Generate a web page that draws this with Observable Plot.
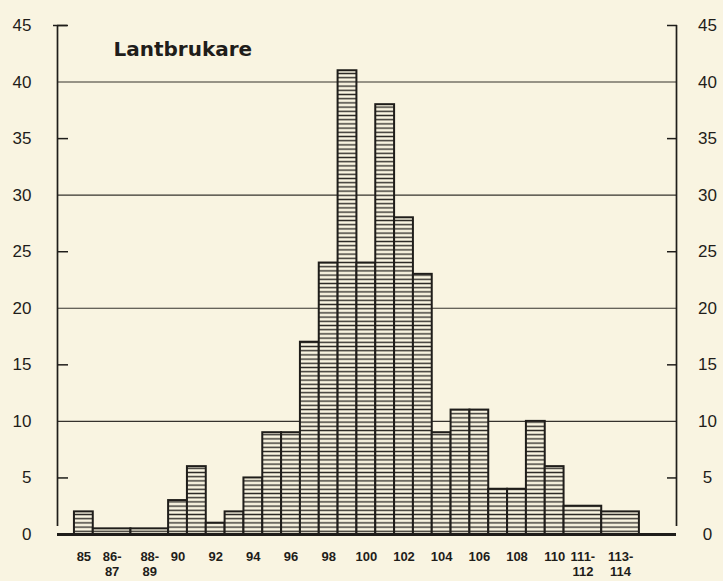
<!DOCTYPE html>
<html>
<head>
<meta charset="utf-8">
<script src="https://cdn.jsdelivr.net/npm/d3@7"></script>
<script src="https://cdn.jsdelivr.net/npm/@observablehq/plot@0.6"></script>
<style>
  html, body { margin: 0; padding: 0; background: #f9f4e1; }
  #chart { width: 723px; height: 581px; overflow: hidden; }
</style>
</head>
<body>
<div id="chart"></div>
<script>
// ---- data ----
const title = "Lantbrukare";
const binLow  = [85, 86, 88, 90, 91, 92, 93, 94, 95, 96, 97, 98, 99, 100, 101, 102, 103, 104, 105, 106, 107, 108, 109, 110, 111, 113];
const binHigh = [85, 87, 89, 90, 91, 92, 93, 94, 95, 96, 97, 98, 99, 100, 101, 102, 103, 104, 105, 106, 107, 108, 109, 110, 112, 114];
const counts  = [2, 0.5, 0.5, 3, 6, 1, 2, 5, 9, 9, 17, 24, 41, 24, 38, 28, 23, 9, 11, 11, 4, 4, 10, 6, 2.5, 2];
const xTickValues = [85, 86.5, 88.5, 90, 92, 94, 96, 98, 100, 102, 104, 106, 108, 110, 111.5, 113.5];
const xTickLabels = ["85", "86-\n87", "88-\n89", "90", "92", "94", "96", "98", "100", "102", "104", "106", "108", "110", "111-\n112", "113-\n114"];
const yTickValues = [0, 5, 10, 15, 20, 25, 30, 35, 40, 45];
const gridValues = [10, 20, 30, 40];
const minorTickValues = [5, 15, 25, 35, 45];
const xDomain = [83.6, 116.47];
const yDomain = [0, 45];

const bins = binLow.map((lo, i) => ({lo, hi: binHigh[i], n: counts[i]}));
const labelOf = new Map(xTickValues.map((v, i) => [v, xTickLabels[i]]));

const ink = "#1f1d1a";
const paper = "#f9f4e1";
const noText = () => "";

const chart = Plot.plot({
  width: 723,
  height: 581,
  marginLeft: 57,
  marginRight: 47,
  marginTop: 25,
  marginBottom: 47,
  style: {background: paper, color: ink, fontFamily: "'Liberation Sans', Arial, sans-serif", overflow: "visible"},
  x: {domain: xDomain, axis: null},
  y: {domain: yDomain, axis: null},
  marks: [
    Plot.ruleY(gridValues, {stroke: ink, strokeWidth: 1.1, strokeOpacity: 0.9}),
    Plot.rectY(bins, {
      x1: d => d.lo - 0.5,
      x2: d => d.hi + 0.5,
      y1: 0,
      y2: "n",
      fill: "url(#hatch)",
      stroke: ink,
      strokeWidth: 2
    }),
    Plot.ruleY([0], {stroke: ink, strokeWidth: 2.8}),
    Plot.ruleX(xDomain, {y1: 0, y2: 45, insetTop: -8, stroke: ink, strokeWidth: 1.7}),
    Plot.axisY({anchor: "left", ticks: minorTickValues, tickSize: 11, dx: 11, tickFormat: noText, label: null, stroke: ink, strokeWidth: 1.5}),
    Plot.axisY({anchor: "left", ticks: [45], tickSize: 14, dx: 10, tickFormat: noText, label: null, stroke: ink, strokeWidth: 1.5}),
    Plot.axisY({anchor: "right", ticks: minorTickValues, tickSize: 10, dx: -10, tickFormat: noText, label: null, stroke: ink, strokeWidth: 1.5}),
    Plot.axisY({anchor: "left", ticks: yTickValues, tickSize: 0, tickPadding: 26, fontSize: 17, label: null, fill: ink}),
    Plot.axisY({anchor: "right", ticks: yTickValues, tickSize: 0, tickPadding: 31, textAnchor: "middle", fontSize: 17, label: null, fill: ink}),
    Plot.axisX({
      ticks: xTickValues,
      tickFormat: d => labelOf.get(d),
      tickSize: 0,
      tickPadding: 15,
      fontSize: 13,
      fontWeight: "bold",
      lineHeight: 1.2,
      label: null,
      fill: ink,
      fontFamily: "'Liberation Sans', Arial, sans-serif"
    }),
    Plot.text([title], {
      frameAnchor: "top-left",
      dx: 56,
      dy: 16,
      textAnchor: "start",
      fontSize: 20,
      fontWeight: "bold",
      fontFamily: "'DejaVu Sans', sans-serif",
      fill: ink
    })
  ]
});

// hatch pattern for bars
const NS = "http://www.w3.org/2000/svg";
const defs = document.createElementNS(NS, "defs");
const pat = document.createElementNS(NS, "pattern");
pat.setAttribute("id", "hatch");
pat.setAttribute("patternUnits", "userSpaceOnUse");
pat.setAttribute("width", "10");
pat.setAttribute("height", "4.2");
const bg = document.createElementNS(NS, "rect");
bg.setAttribute("width", "10");
bg.setAttribute("height", "4.2");
bg.setAttribute("fill", paper);
const ln = document.createElementNS(NS, "line");
ln.setAttribute("x1", "0"); ln.setAttribute("x2", "10");
ln.setAttribute("y1", "2.1"); ln.setAttribute("y2", "2.1");
ln.setAttribute("stroke", "#2e2b27");
ln.setAttribute("stroke-width", "1.4");
pat.appendChild(bg); pat.appendChild(ln);
defs.appendChild(pat);
chart.insertBefore(defs, chart.firstChild);

document.getElementById("chart").appendChild(chart);
</script>
</body>
</html>
